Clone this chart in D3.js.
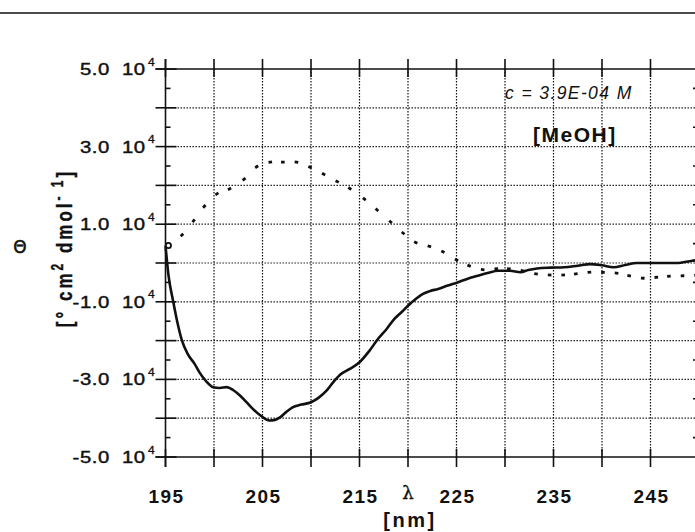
<!DOCTYPE html>
<meta charset="utf-8">
<title>CD spectrum</title>
<style>
body { margin: 0; background: #fff; }
svg { display: block; font-family: "Liberation Sans", Arial, sans-serif; }
.grid line { stroke: #111; stroke-width: 1.2; stroke-dasharray: 1.4,1.6; }
.frame line { stroke: #111; stroke-width: 1.6; }
</style>
<svg width="695" height="532"></svg>
<script src="https://cdn.jsdelivr.net/npm/d3@7"></script>
<script>

// wavelength ticks (nm) and the labelled ones
var xTicks = [195, 200, 205, 210, 215, 220, 225, 230, 235, 240, 245];
var xLabels = [195, 205, 215, 225, 235, 245];
// theta ticks in units of 10^4
var yTicks = [-5, -4, -3, -2, -1, 0, 1, 2, 3, 4, 5];
var yLabels = ["5.0", "3.0", "1.0", "-1.0", "-3.0", "-5.0"];
var yLabelVals = [5, 3, 1, -1, -3, -5];
var yMinor = [-4.5, -3.5, -2.5, -1.5, -0.5, 0.5, 1.5, 2.5, 3.5, 4.5];

// solid curve
var solidNm = [195.0, 195.3, 195.8, 196.2, 196.7, 197.3, 198.0, 198.5, 199.2, 199.9,
  200.6, 201.3, 202.0, 202.7, 203.4, 204.0, 204.9, 205.7, 206.2, 206.8,
  207.4, 208.1, 209.0, 210.0, 210.8, 211.6, 212.3, 213.0, 214.0, 215.0,
  216.0, 216.9, 217.8, 218.6, 219.4, 220.0, 220.8, 221.5, 222.3, 223.1,
  224.1, 225.1, 226.1, 227.2, 228.2, 229.3, 230.5, 231.6, 232.4, 233.3,
  234.7, 236.1, 237.5, 238.8, 240.0, 241.2, 242.4, 243.6, 245.6, 247.7, 249.3, 250.0];
var solidTheta = [0.45, -0.3, -1.0, -1.5, -2.0, -2.35, -2.6, -2.82, -3.05, -3.2,
  -3.22, -3.2, -3.28, -3.42, -3.6, -3.76, -3.95, -4.06, -4.05, -3.98,
  -3.85, -3.72, -3.65, -3.59, -3.47, -3.29, -3.07, -2.88, -2.73, -2.56,
  -2.27, -1.96, -1.7, -1.44, -1.25, -1.1, -0.93, -0.8, -0.72, -0.67,
  -0.58, -0.5, -0.41, -0.33, -0.26, -0.2, -0.2, -0.24, -0.18, -0.14,
  -0.12, -0.11, -0.07, -0.03, -0.06, -0.11, -0.05, 0.0, 0.0, 0.0, 0.06, 0.08];

// dotted curve (plotted points)
var dotNm = [195.3, 196.7, 197.9, 199.0, 200.3, 201.6, 203.1, 204.4, 205.8, 207.1,
  208.5, 209.9, 211.3, 212.7, 214.0, 215.5, 216.8, 218.2, 219.5, 220.8,
  222.2, 223.6, 225.0, 226.3, 227.7, 229.1, 230.4, 231.8, 233.2, 234.6,
  236.0, 237.3, 238.7, 240.1, 241.5, 242.8, 244.2, 245.6, 246.9, 248.3, 249.7];
var dotTheta = [0.45, 0.72, 1.09, 1.46, 1.78, 1.91, 2.16, 2.48, 2.60, 2.60,
  2.60, 2.47, 2.29, 2.10, 1.92, 1.65, 1.37, 1.06, 0.77, 0.53,
  0.43, 0.29, 0.08, -0.07, -0.17, -0.15, -0.15, -0.2, -0.28, -0.31,
  -0.31, -0.28, -0.24, -0.24, -0.26, -0.33, -0.39, -0.37, -0.34, -0.33, -0.32];

var svg = d3.select("svg");

var x = d3.scaleLinear().domain([195, 250]).range([165.5, 699]);
var y = d3.scaleLinear().domain([-5, 5]).range([457, 69]);

// rule across the top of the scanned page
svg.append("line")
  .attr("x1", 0).attr("x2", 695).attr("y1", 13).attr("y2", 13)
  .attr("stroke", "#111").attr("stroke-width", 1.5);

// dotted grid
var grid = svg.append("g").attr("class", "grid");
grid.selectAll(".gx")
  .data(xTicks.filter(function(d) { return d > 195; }))
  .enter().append("line")
    .attr("x1", x).attr("x2", x)
    .attr("y1", y(5)).attr("y2", y(-5));
grid.selectAll(".gy")
  .data(yTicks.filter(function(d) { return Math.abs(d) < 5; }))
  .enter().append("line")
    .attr("x1", x(195)).attr("x2", 695)
    .attr("y1", y).attr("y2", y);

// frame and ticks
var frame = svg.append("g").attr("class", "frame");
frame.append("line").attr("x1", x(195)).attr("x2", x(195)).attr("y1", y(5) - 10).attr("y2", y(-5) + 10);
frame.append("line").attr("x1", x(250)).attr("x2", x(250)).attr("y1", y(5) - 10).attr("y2", y(-5) + 10);
frame.append("line").attr("x1", x(195) - 10).attr("x2", 695).attr("y1", y(5)).attr("y2", y(5));
frame.append("line").attr("x1", x(195) - 10).attr("x2", 695).attr("y1", y(-5)).attr("y2", y(-5));

xTicks.forEach(function(d) {
  frame.append("line").attr("x1", x(d)).attr("x2", x(d)).attr("y1", y(5) - 10).attr("y2", y(5) + 8);
  frame.append("line").attr("x1", x(d)).attr("x2", x(d)).attr("y1", y(-5) - 8).attr("y2", y(-5) + 10);
});
yTicks.forEach(function(d) {
  frame.append("line").attr("x1", x(195) - 10).attr("x2", x(195) + 11).attr("y1", y(d)).attr("y2", y(d));
});
yMinor.forEach(function(d) {
  frame.append("line").attr("x1", x(195)).attr("x2", x(195) + 5).attr("y1", y(d)).attr("y2", y(d));
  frame.append("line").attr("x1", x(250) - 6).attr("x2", x(250)).attr("y1", y(d)).attr("y2", y(d));
});

// y tick labels "5.0 10^4" (the scan is stretched sideways)
yLabelVals.forEach(function(v, i) {
  var ty = y(v) + 6;
  var g = svg.append("g").attr("font-size", 16).attr("fill", "#111")
    .attr("stroke", "#111").attr("stroke-width", 0.4);
  g.append("text")
    .attr("transform", "translate(110," + ty + ") scale(1.27,1)")
    .attr("text-anchor", "end")
    .attr("letter-spacing", 0.5)
    .text(yLabels[i]);
  g.append("text")
    .attr("transform", "translate(122," + ty + ") scale(1.27,1)")
    .attr("letter-spacing", 0.4)
    .text("10");
  g.append("text")
    .attr("transform", "translate(148," + (ty - 9.5) + ") scale(1.2,1)")
    .attr("font-size", 10)
    .attr("stroke-width", 0.3)
    .text("4");
});

// x tick labels
svg.append("g").selectAll("text")
  .data(xLabels)
  .enter().append("text")
    .attr("x", function(d) { return x(d) + 1; })
    .attr("y", 502.5)
    .attr("text-anchor", "middle")
    .attr("font-size", 19)
    .attr("font-weight", "bold")
    .attr("letter-spacing", 1.5)
    .attr("fill", "#111")
    .text(function(d) { return d; });

// axis titles
svg.append("text")
  .attr("x", x(220)).attr("y", 499)
  .attr("text-anchor", "middle")
  .attr("font-family", "DejaVu Serif, serif")
  .attr("font-size", 18)
  .attr("fill", "#111")
  .attr("stroke", "#111").attr("stroke-width", 0.4)
  .text("λ");
svg.append("text")
  .attr("x", 410).attr("y", 527)
  .attr("text-anchor", "middle")
  .attr("font-size", 20)
  .attr("font-weight", "bold")
  .attr("letter-spacing", 2.5)
  .attr("fill", "#111")
  .text("[nm]");

svg.append("text")
  .attr("x", 20).attr("y", 252.5)
  .attr("text-anchor", "middle")
  .attr("font-family", "DejaVu Sans, sans-serif")
  .attr("font-size", 17)
  .attr("fill", "#111")
  .attr("stroke", "#111").attr("stroke-width", 0.5)
  .text("Θ");

var yt = svg.append("text")
  .attr("transform", "translate(72,248) rotate(-90) scale(1,1.3)")
  .attr("text-anchor", "middle")
  .attr("font-size", 17)
  .attr("font-weight", "bold")
  .attr("letter-spacing", 3)
  .attr("fill", "#111")
  .attr("stroke", "#111").attr("stroke-width", 0.3);
yt.append("tspan").text("[°  cm");
yt.append("tspan").attr("dy", -7).attr("font-size", 12).text("2");
yt.append("tspan").attr("dy", 7).text("  dmol");
yt.append("tspan").attr("dy", -7).attr("font-size", 12).text("- 1");
yt.append("tspan").attr("dy", 7).text("]");

// annotations
svg.append("text")
  .attr("x", 505).attr("y", 99)
  .attr("font-size", 17.5)
  .attr("font-style", "italic")
  .attr("letter-spacing", 1.4)
  .attr("fill", "#111")
  .text("c = 3.9E-04 M");
svg.append("text")
  .attr("x", 533).attr("y", 142)
  .attr("font-size", 21)
  .attr("font-weight", "bold")
  .attr("letter-spacing", 1.5)
  .attr("fill", "#111")
  .text("[MeOH]");

// solid spectrum
var line = d3.line()
  .x(function(d, i) { return x(solidNm[i]); })
  .y(function(d) { return y(d); })
  .curve(d3.curveMonotoneX);
svg.append("path")
  .datum(solidTheta)
  .attr("d", line)
  .attr("fill", "none")
  .attr("stroke", "#111")
  .attr("stroke-width", 2.6)
  .attr("stroke-linejoin", "round");

// dotted spectrum: short dashes along the local direction
svg.append("g").selectAll("line")
  .data(dotTheta)
  .enter().append("line")
    .each(function(d, i) {
      var a = Math.max(0, i - 1), b = Math.min(dotTheta.length - 1, i + 1);
      var dx = x(dotNm[b]) - x(dotNm[a]), dy = y(dotTheta[b]) - y(dotTheta[a]);
      var len = Math.sqrt(dx * dx + dy * dy) || 1;
      var ux = dx / len * 1.8, uy = dy / len * 1.8;
      var cx = x(dotNm[i]), cy = y(d);
      d3.select(this)
        .attr("x1", cx - ux).attr("y1", cy - uy)
        .attr("x2", cx + ux).attr("y2", cy + uy);
    })
    .attr("stroke", "#111")
    .attr("stroke-width", 2.8);

svg.append("circle")
  .attr("cx", x(dotNm[0])).attr("cy", y(dotTheta[0]))
  .attr("r", 2.6)
  .attr("fill", "#fff")
  .attr("stroke", "#111")
  .attr("stroke-width", 1.8);

</script>
